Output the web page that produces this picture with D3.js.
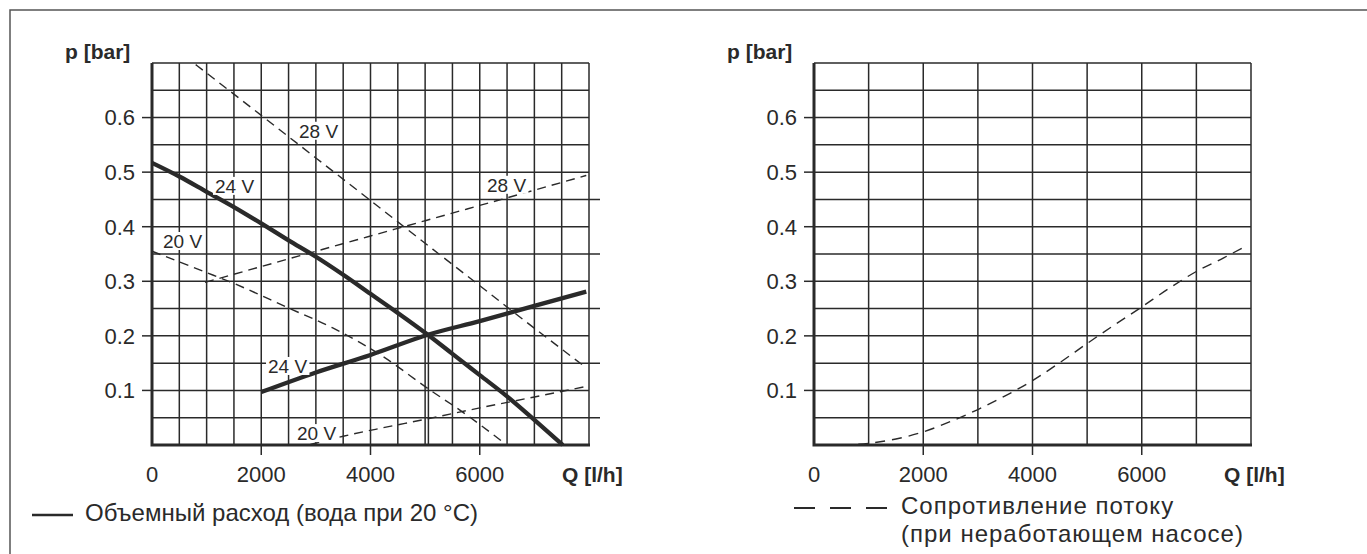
<!DOCTYPE html>
<html>
<head>
<meta charset="utf-8">
<script src="https://cdn.jsdelivr.net/npm/d3@7/dist/d3.min.js"></script>
<style>
  body { margin: 0; background: #fff; }
  text { font-family: "Liberation Sans", Arial, sans-serif; fill: #2a2a2a; }
</style>
</head>
<body>
<svg width="1367" height="554"></svg>
<script>
// axis values
var qTicks = [0, 2000, 4000, 6000]
var pTicks = [0.1, 0.2, 0.3, 0.4, 0.5, 0.6]
var extendedRows = [0.05, 0.15, 0.25, 0.35, 0.45]

// left chart: pump curves (thick / dashed) [Q l/h, p bar]
var pump24 = [[0, 0.517], [500, 0.492], [1000, 0.464], [1500, 0.436], [2000, 0.406], [2500, 0.375],
  [3000, 0.345], [3500, 0.312], [4000, 0.277], [4500, 0.242], [5050, 0.202], [5500, 0.167],
  [6000, 0.128], [6500, 0.089], [7000, 0.046], [7520, 0]]
var system24 = [[2000, 0.097], [3000, 0.133], [4000, 0.165], [5050, 0.202], [6000, 0.227],
  [7000, 0.255], [7950, 0.281]]
var pump28 = [[800, 0.697], [2000, 0.604], [3000, 0.526], [4000, 0.448], [5150, 0.358],
  [6000, 0.292], [7000, 0.214], [7930, 0.143]]
var system28 = [[970, 0.298], [2000, 0.327], [3000, 0.355], [4000, 0.383], [5000, 0.411],
  [6000, 0.439], [7000, 0.467], [7950, 0.494]]
var pump20 = [[0, 0.355], [1000, 0.316], [1500, 0.296], [2500, 0.251], [3300, 0.215],
  [4200, 0.164], [5100, 0.100], [5650, 0.063], [6430, 0.005]]
var system20 = [[2900, 0.001], [3500, 0.016], [4200, 0.031], [5000, 0.047], [6000, 0.068],
  [7000, 0.088], [7930, 0.107]]
var operatingPoint = [5060, 0.202]

// curve labels: text, Q, p (baseline-left)
var curveLabels = [
  ['28 V', 2691, 0.563], ['28 V', 6133, 0.464], ['24 V', 1153, 0.462],
  ['20 V', 201, 0.361], ['24 V', 2124, 0.132], ['20 V', 2654, 0.009]
]

// right chart: flow resistance with pump off
var resistance = [[500, 0], [1000, 0.003], [1500, 0.011], [2000, 0.024], [2500, 0.043],
  [3000, 0.065], [3500, 0.09], [4000, 0.118], [4500, 0.151], [5000, 0.186], [5500, 0.22],
  [6000, 0.253], [6500, 0.287], [7000, 0.318], [7500, 0.343], [7840, 0.361]]

var svg = d3.select('svg')
var ink = '#2a2a2a'

// frame
svg.append('path')
    .attr('d', 'M10,554 V10 H1367')
    .attr('fill', 'none')
    .attr('stroke', '#555')
    .attr('stroke-width', 1.5)

var y = d3.scaleLinear().domain([0, 0.7]).range([445, 63])

function panel(x0, colStep, extend) {
  var x = d3.scaleLinear().domain([0, 8000]).range([x0, x0 + 437])
  var g = svg.append('g')

  // grid
  g.selectAll('.vg').data(d3.range(colStep, 8001, colStep))
    .enter().append('line')
      .attr('x1', function(d) { return x(d) }).attr('x2', function(d) { return x(d) })
      .attr('y1', y(0)).attr('y2', y(0.7))
      .attr('stroke', ink).attr('stroke-width', 1.5)

  g.selectAll('.hg').data(d3.range(1, 15).map(function(i) { return i * 0.05 }))
    .enter().append('line')
      .attr('x1', x(0)).attr('y1', function(d) { return y(d) })
      .attr('x2', function(d) {
        var ext = extend && extendedRows.some(function(e) { return Math.abs(e - d) < 1e-6 })
        return ext ? x(8000) + 11 : x(8000)
      })
      .attr('y2', function(d) { return y(d) })
      .attr('stroke', ink).attr('stroke-width', 1.5)

  // ticks
  g.selectAll('.yt').data(pTicks)
    .enter().append('line')
      .attr('x1', x(0) - 10).attr('x2', x(0))
      .attr('y1', function(d) { return y(d) }).attr('y2', function(d) { return y(d) })
      .attr('stroke', ink).attr('stroke-width', 1.5)
  g.selectAll('.xt').data(qTicks.slice(1))
    .enter().append('line')
      .attr('x1', function(d) { return x(d) }).attr('x2', function(d) { return x(d) })
      .attr('y1', y(0)).attr('y2', y(0) + 10)
      .attr('stroke', ink).attr('stroke-width', 1.5)

  // axes
  g.append('path')
      .attr('d', 'M' + x(0) + ',' + y(0.7) + ' V' + y(0) + ' H' + (x(8000) + 1))
      .attr('fill', 'none').attr('stroke', ink).attr('stroke-width', 3)

  // tick labels
  g.selectAll('.yl').data(pTicks)
    .enter().append('text')
      .attr('x', x(0) - 17).attr('y', function(d) { return y(d) })
      .attr('dy', '0.36em').attr('text-anchor', 'end')
      .style('font-size', '22px')
      .text(function(d) { return d.toFixed(1) })
  g.selectAll('.xl').data(qTicks)
    .enter().append('text')
      .attr('x', function(d) { return x(d) }).attr('y', 482)
      .attr('text-anchor', 'middle')
      .style('font-size', '22px')
      .text(function(d) { return d })

  g.append('text').attr('x', x(0) - 87).attr('y', 59)
      .style('font-size', '21px').style('font-weight', 'bold').text('p [bar]')
  g.append('text').attr('x', x(0) + 410).attr('y', 482)
      .style('font-size', '21px').style('font-weight', 'bold').text('Q [l/h]')

  return { g: g, x: x }
}

// left chart
var left = panel(152, 500, true)
var xL = left.x
var line = d3.line()
    .x(function(d) { return xL(d[0]) })
    .y(function(d) { return y(d[1]) })
    .curve(d3.curveMonotoneX)

left.g.append('line')
    .attr('x1', xL(operatingPoint[0])).attr('x2', xL(operatingPoint[0]))
    .attr('y1', y(operatingPoint[1])).attr('y2', y(0))
    .attr('stroke', ink).attr('stroke-width', 1.5)

var dashed = [pump28, system28, pump20, system20]
left.g.selectAll('.dash').data(dashed)
  .enter().append('path')
    .attr('d', line)
    .attr('fill', 'none').attr('stroke', ink)
    .attr('stroke-width', 1.4).attr('stroke-dasharray', '9,6')

left.g.selectAll('.thick').data([pump24, system24])
  .enter().append('path')
    .attr('d', line)
    .attr('fill', 'none').attr('stroke', ink)
    .attr('stroke-width', 4.3).attr('stroke-linecap', 'butt')

var lab = left.g.selectAll('.lab').data(curveLabels)
  .enter().append('g')
lab.append('text')
    .attr('x', function(d) { return xL(d[1]) })
    .attr('y', function(d) { return y(d[2]) })
    .style('font-size', '19px')
    .text(function(d) { return d[0] })
lab.each(function() {
  var t = d3.select(this).select('text')
  var b = t.node().getBBox()
  d3.select(this).insert('rect', 'text')
      .attr('x', b.x - 2).attr('y', b.y + 1)
      .attr('width', b.width + 4).attr('height', b.height - 3)
      .attr('fill', '#fff')
})

// right chart
var right = panel(814, 1000, false)
var xR = right.x
right.g.append('path')
    .datum(resistance)
    .attr('d', d3.line()
      .x(function(d) { return xR(d[0]) })
      .y(function(d) { return y(d[1]) })
      .curve(d3.curveMonotoneX))
    .attr('fill', 'none').attr('stroke', ink)
    .attr('stroke-width', 1.4).attr('stroke-dasharray', '10,7')

// legends
svg.append('line').attr('x1', 32).attr('x2', 73).attr('y1', 515).attr('y2', 515)
    .attr('stroke', ink).attr('stroke-width', 2.5)
svg.append('text').attr('x', 85).attr('y', 521).style('font-size', '24px')
    .text('Объемный расход (вода при 20 °C)')

svg.append('line').attr('x1', 794).attr('x2', 887).attr('y1', 508).attr('y2', 508)
    .attr('stroke', ink).attr('stroke-width', 2).attr('stroke-dasharray', '21,15')
svg.append('text').attr('x', 901).attr('y', 514).style('font-size', '24px')
    .style('letter-spacing', '1px')
    .text('Сопротивление потоку')
svg.append('text').attr('x', 901).attr('y', 542).style('font-size', '24px')
    .style('letter-spacing', '1px')
    .text('(при неработающем насосе)')
</script>
</body>
</html>
